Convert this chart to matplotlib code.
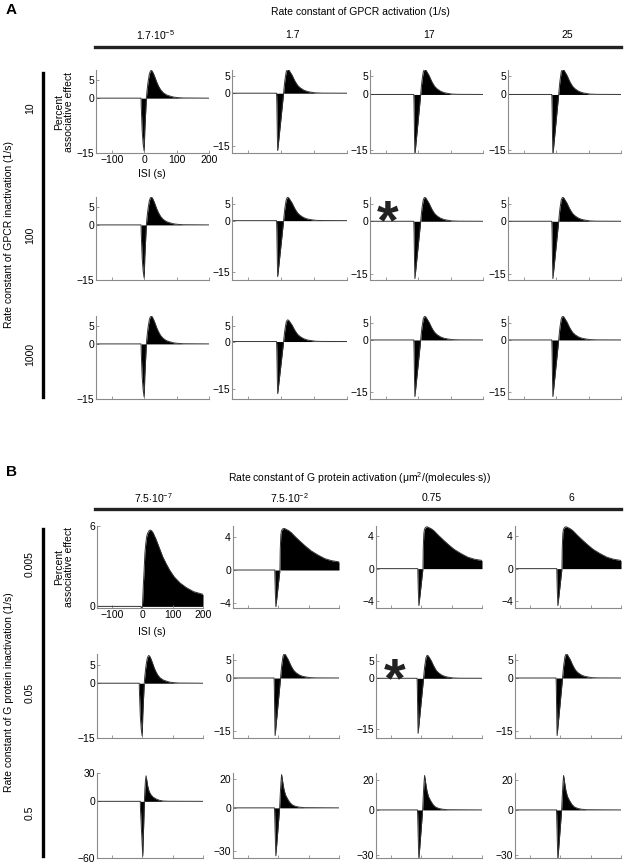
import matplotlib.pyplot as plt
from matplotlib.lines import Line2D

plt.rcParams['font.family'] = ['Liberation Sans', 'DejaVu Sans']
plt.rcParams['mathtext.fontset'] = 'custom'
plt.rcParams['mathtext.rm'] = 'Liberation Sans'
plt.rcParams['mathtext.it'] = 'Liberation Sans'

# --- curve families: ISI (s) and percent associative effect ---
# slow GPCR / G protein activation (first column, rows with -15..5 range)
isi_slow = [-150, -10.5, -10, -7, -4, -1, 0, 1, 6, 8, 11, 15, 18, 21, 24, 28, 33, 38, 43, 50, 58, 68, 78, 90, 103, 120, 200]
eff_slow = [0, 0, -2, -9, -12.5, -14.4, -12.5, -9, 0, 2.0, 4.3, 6.5, 7.3, 7.6, 7.4, 6.7, 5.6, 4.4, 3.4, 2.3, 1.5, 0.9, 0.6, 0.3, 0.15, 0.05, 0]

# faster activation (other columns)
isi_fast = [-150, -14.5, -14, -13.5, -12, -11, 7, 9, 11, 15, 18, 20, 23, 27, 33, 38, 43, 50, 58, 68, 79, 90, 104, 125, 200]
eff_fast = [0, 0, -1, -3, -12, -16.3, 0, 2.0, 3.7, 6.1, 6.7, 6.8, 6.6, 6.0, 5.1, 4.1, 3.2, 2.2, 1.5, 0.9, 0.5, 0.3, 0.1, 0.03, 0]

# slow G protein inactivation, slowest G protein activation
isi_broad = [-150, -5, -4, -2, 0, 3, 5.6, 8, 11, 14, 17, 21, 25, 30, 35, 45, 56, 67, 78, 90, 105, 124, 145, 169, 200]
eff_broad = [0, 0, -0.08, -0.12, 0, 1.6, 2.7, 3.9, 4.7, 5.2, 5.45, 5.62, 5.7, 5.65, 5.5, 5.0, 4.35, 3.7, 3.2, 2.7, 2.2, 1.75, 1.4, 1.1, 0.9]

# slow G protein inactivation, faster activation
isi_long = [-150, -12, -11.5, -10.5, -8.5, 5, 6, 8, 10, 13, 17, 21, 25, 33, 42, 55, 75, 90, 108, 130, 153, 175, 200]
eff_long = [0, 0, -1, -2.5, -4.5, 0, 2.5, 4.3, 4.8, 5.0, 5.1, 5.08, 5.0, 4.85, 4.6, 4.1, 3.4, 2.9, 2.35, 1.85, 1.4, 1.15, 1.0]

# fast G protein inactivation, slowest activation
isi_sharp = [-150, -7, -6.5, 1, 6.5, 8, 10, 12, 14, 17.5, 22, 28, 35, 45, 55, 67, 85, 200]
eff_sharp = [0, 0, -8, -58, 0, 12, 22, 27, 23, 16, 10.5, 7, 4.5, 2.5, 1.2, 0.4, 0.1, 0]

# fast G protein inactivation, faster activation
isi_spike = [-150, -13, -12.5, -11, -8.6, 4, 6, 8.5, 10.4, 12, 14, 18, 23, 30, 38, 46, 57, 69, 85, 200]
eff_spike = [0, 0, -3, -15, -33, 0, 9, 18, 22.8, 21, 18, 13, 9, 6.2, 3.6, 2, 1, 0.5, 0.15, 0]

curves = {
    "slow": (isi_slow, eff_slow),
    "fast": (isi_fast, eff_fast),
    "broad": (isi_broad, eff_broad),
    "long": (isi_long, eff_long),
    "sharp": (isi_sharp, eff_sharp),
    "spike": (isi_spike, eff_spike),
}

# --- panel A: GPCR activation (columns) x GPCR inactivation (rows) ---
a_title = "Rate constant of GPCR activation (1/s)"
a_row_title = "Rate constant of GPCR inactivation (1/s)"
a_col_labels = [r"1.7$\cdot$10$^{-5}$", "1.7", "17", "25"]
a_row_labels = ["10", "100", "1000"]
a_shape = [["slow", "fast", "fast", "fast"],
           ["slow", "fast", "fast", "fast"],
           ["slow", "fast", "fast", "fast"]]
a_ylim = [[(-15, 7.7), (-17, 6.6), (-15.8, 6.6), (-15.8, 6.6)],
          [(-15, 7.6), (-17.3, 6.9), (-16.7, 6.9), (-16.7, 6.9)],
          [(-15, 7.6), (-18, 8.0), (-17, 6.9), (-17, 6.9)]]
a_yticks = [[-15, 0, 5]] * 3

# --- panel B: G protein activation (columns) x G protein inactivation (rows) ---
b_title = "Rate constant of G protein activation (μm$^{2}$/(molecules·s))"
b_row_title = "Rate constant of G protein inactivation (1/s)"
b_col_labels = [r"7.5$\cdot$10$^{-7}$", r"7.5$\cdot$10$^{-2}$", "0.75", "6"]
b_row_labels = ["0.005", "0.05", "0.5"]
b_shape = [["broad", "long", "long", "long"],
           ["slow", "fast", "fast", "fast"],
           ["sharp", "spike", "spike", "spike"]]
b_ylim = [[(-0.12, 6.0), (-4.66, 5.4), (-4.8, 5.2), (-4.8, 5.2)],
          [(-15, 8.0), (-17, 6.8), (-17.7, 7.2), (-17, 6.8)],
          [(-60, 30), (-34.5, 24), (-32, 24.6), (-32, 24.6)]]
b_yticks = [[0, 6], [-15, 0, 5], [-60, 0, 30]]
b_yticks_other = [[-4, 0, 4], [-15, 0, 5], [-30, 0, 20]]

isi_ticks = [-100, 0, 100, 200]

# --- layout in pixels of the 625 x 864 figure ---
W, H = 625, 864
a_cols = [(96, 209), (232, 347), (370, 483), (508, 621)]
a_rows = [(70, 153), (197, 280), (316, 399)]
b_cols = [(97, 203), (233, 339), (376, 482), (515, 621)]
b_rows = [(526, 608), (654, 738), (773, 858)]

GRAY = "#8a8a8a"


def fx(px):
    return px / W


def fy(py):
    return 1 - py / H


def draw_cell(fig, box, shape, ylim, yticks, show_x):
    (x0, x1), (y0, y1) = box
    ax = fig.add_axes([fx(x0), fy(y1), (x1 - x0) / W, (y1 - y0) / H])
    isi, eff = curves[shape]
    ax.fill_between(isi, eff, 0, color="black", lw=0)
    ax.plot(isi, eff, color="#333333", lw=0.7)
    ax.set_xlim(-150, 200)
    ax.set_ylim(*ylim)
    ax.set_xticks(isi_ticks)
    ax.set_yticks(yticks)
    ax.set_yticklabels([str(t).replace("-", "\u2212") for t in yticks])
    if not show_x:
        ax.set_xticklabels([])
    for s in ["top", "right"]:
        ax.spines[s].set_visible(False)
    for s in ["left", "bottom"]:
        ax.spines[s].set_color(GRAY)
        ax.spines[s].set_linewidth(0.8)
    ax.tick_params(direction="in", length=2.5, width=0.6, color=GRAY,
                   labelsize=7.5, pad=1.5)
    return ax


def draw_panel(fig, letter, letter_y, title, title_y, col_labels, cols_y, bar_y,
               row_title, row_labels, rows, cols, shapes, ylims, yticks_fn,
               isi_label_y, star_xy):
    fig.text(fx(6), fy(letter_y), letter, fontsize=11, fontweight="bold",
             ha="left", va="center")
    fig.text(fx(360), fy(title_y), title, fontsize=7.5, ha="center", va="center")
    for (x0, x1), lab in zip(cols, col_labels):
        fig.text(fx((x0 + x1) / 2 + 3), fy(cols_y), lab, fontsize=7.5,
                 ha="center", va="center")
    fig.add_artist(Line2D([fx(95), fx(621)], [fy(bar_y), fy(bar_y)],
                          lw=2.4, color="#222222"))

    # row axis: vertical bar, labels and title
    fig.add_artist(Line2D([fx(43), fx(43)], [fy(rows[0][0] + 3), fy(rows[-1][1] - 2)],
                          lw=2.4, color="black"))
    for (y0, y1), lab in zip(rows, row_labels):
        fig.text(fx(30), fy((y0 + y1) / 2 - 3), lab, fontsize=7.5, rotation=90,
                 ha="center", va="center")
    fig.text(fx(9), fy((rows[0][0] + rows[-1][1]) / 2), row_title, fontsize=7.5,
             rotation=90, ha="center", va="center")

    for r, rb in enumerate(rows):
        for c, cb in enumerate(cols):
            draw_cell(fig, (cb, rb), shapes[r][c], ylims[r][c], yticks_fn(r, c),
                      r == 0 and c == 0)

    # axis titles on the first cell
    y0, y1 = rows[0]
    fig.text(fx(64), fy((y0 + y1) / 2), "Percent\nassociative effect", fontsize=7.5,
             rotation=90, ha="center", va="center", linespacing=1.0)
    fig.text(fx(152), fy(isi_label_y), "ISI (s)", fontsize=7.5, ha="center", va="center")

    # asterisk marks the reference parameter set
    fig.text(fx(star_xy[0]), fy(star_xy[1]), "*", fontsize=40, fontweight="bold",
             ha="center", va="center", color="#222222")


fig = plt.figure(figsize=(W / 100, H / 100), dpi=100)

draw_panel(fig, "A", 10, a_title, 12, a_col_labels, 35, 47,
           a_row_title, a_row_labels, a_rows, a_cols, a_shape, a_ylim,
           lambda r, c: a_yticks[r], 174, (388, 224))

draw_panel(fig, "B", 472, b_title, 478, b_col_labels, 498, 509,
           b_row_title, b_row_labels, b_rows, b_cols, b_shape, b_ylim,
           lambda r, c: b_yticks[r] if c == 0 else b_yticks_other[r], 632,
           (395, 682))

fig.savefig("out.png", dpi=100)
